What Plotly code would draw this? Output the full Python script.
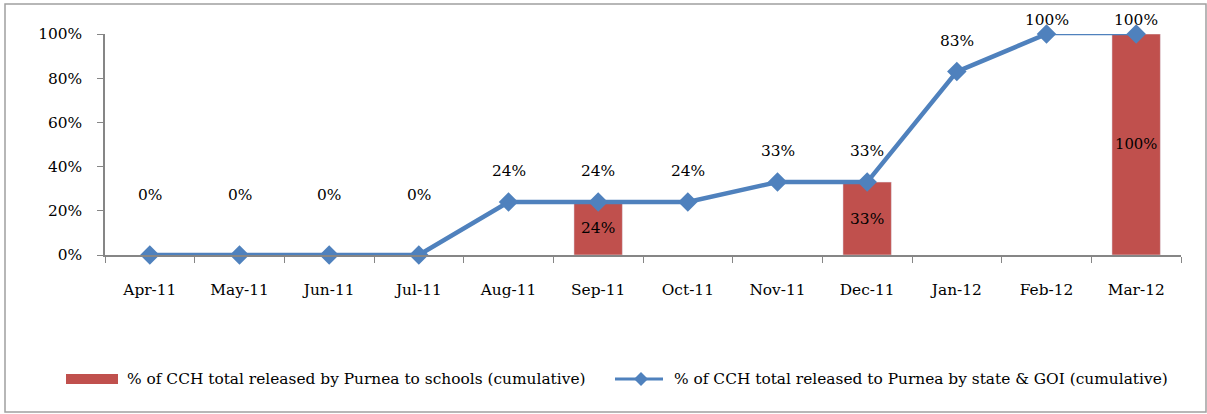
import plotly.graph_objects as go

months = ["Apr-11", "May-11", "Jun-11", "Jul-11", "Aug-11", "Sep-11",
          "Oct-11", "Nov-11", "Dec-11", "Jan-12", "Feb-12", "Mar-12"]
released_to_schools = [None, None, None, None, None, 0.24,
                       None, None, 0.33, None, None, 1.00]
released_to_purnea = [0.0, 0.0, 0.0, 0.0, 0.24, 0.24,
                      0.24, 0.33, 0.33, 0.83, 1.00, 1.00]
y_ticks = [0, 0.2, 0.4, 0.6, 0.8, 1.0]
y_tick_labels = ["0%", "20%", "40%", "60%", "80%", "100%"]
name_bar = "% of CCH total released by Purnea to schools (cumulative)"
name_line = "% of CCH total released to Purnea by state & GOI (cumulative)"

FONT = "DejaVu Serif"
FS = 15.4
AX = "#868686"
BAR_C = "#C0504D"
LINE_C = "#4F81BD"

# plot area in pixels
PL, PR, PT, PB = 105, 1181, 34, 255
W, H = 1207, 414


def px(x):
    return (x - PL) / (PR - PL)


def py(y):
    return (PB - y) / (PB - PT)


fig = go.Figure()
fig.add_trace(go.Bar(
    x=months, y=released_to_schools, name=name_bar,
    marker_color=BAR_C, width=0.54,
    text=[f"{v*100:.0f}%" if v is not None else "" for v in released_to_schools],
    textposition="inside", insidetextanchor="middle", textangle=0,
    textfont=dict(family=FONT, size=FS, color="black"),
    cliponaxis=False, showlegend=False,
))
# main line (thick), with last segment drawn thinner as in the original
fig.add_trace(go.Scatter(
    x=months[:-1], y=released_to_purnea[:-1], mode="lines",
    line=dict(color=LINE_C, width=4.5), cliponaxis=False, showlegend=False,
))
fig.add_trace(go.Scatter(
    x=months[-2:], y=released_to_purnea[-2:], mode="lines",
    line=dict(color=LINE_C, width=2.5), cliponaxis=False, showlegend=False,
))
fig.add_trace(go.Scatter(
    x=months, y=released_to_purnea, mode="markers", name=name_line,
    marker=dict(symbol="diamond", size=15, color=LINE_C),
    cliponaxis=False, showlegend=False,
))

for m, v in zip(months, released_to_purnea):
    shift = 60 if v == 0 else (14 if v >= 1 else 31)
    fig.add_annotation(x=m, y=v, text=f"{v*100:.0f}%", showarrow=False,
                       yshift=shift,
                       font=dict(family=FONT, size=FS, color="black"))

# outer chart border
fig.add_shape(type="rect", xref="paper", yref="paper",
              x0=px(5), x1=px(1206), y0=py(412), y1=py(4),
              line=dict(color="#A0A0A0", width=1.5), layer="below")

# manual legend
ly = 379
fig.add_shape(type="rect", xref="paper", yref="paper",
              x0=px(66), x1=px(118), y0=py(384), y1=py(374),
              fillcolor=BAR_C, line=dict(width=0))
fig.add_annotation(xref="paper", yref="paper", x=px(125), y=py(ly),
                   xanchor="left", yanchor="middle", showarrow=False,
                   text=name_bar, font=dict(family=FONT, size=FS, color="black"))
fig.add_shape(type="line", xref="paper", yref="paper",
              x0=px(615), x1=px(663), y0=py(ly), y1=py(ly),
              line=dict(color=LINE_C, width=3))
cx, d = 641, 7
fig.add_shape(type="path", xref="paper", yref="paper",
              path=(f"M {px(cx-d)} {py(ly)} L {px(cx)} {py(ly-d)} "
                    f"L {px(cx+d)} {py(ly)} L {px(cx)} {py(ly+d)} Z"),
              fillcolor=LINE_C, line=dict(width=0))
fig.add_annotation(xref="paper", yref="paper", x=px(672), y=py(ly),
                   xanchor="left", yanchor="middle", showarrow=False,
                   text=name_line, font=dict(family=FONT, size=FS, color="black"))

fig.update_layout(
    width=W, height=H,
    margin=dict(l=PL, r=W - PR, t=PT, b=H - PB, autoexpand=False),
    paper_bgcolor="white", plot_bgcolor="white",
    font=dict(family=FONT, size=FS, color="black"),
    showlegend=False,
    bargap=0.46,
)
fig.update_xaxes(range=[-0.5, len(months) - 0.5],
                 showline=True, linecolor=AX, linewidth=1.5,
                 ticks="outside", tickson="boundaries", ticklen=6, tickcolor=AX,
                 showgrid=False, ticklabelstandoff=20)
fig.update_yaxes(range=[0, 1], tickvals=y_ticks, ticktext=y_tick_labels,
                 showline=True, linecolor=AX, linewidth=1.5,
                 ticks="outside", ticklen=6, tickcolor=AX,
                 showgrid=False, zeroline=False, ticklabelstandoff=12)

fig.write_html("out.html", config={"displayModeBar": False},
               post_script="document.body.style.margin='0';")
